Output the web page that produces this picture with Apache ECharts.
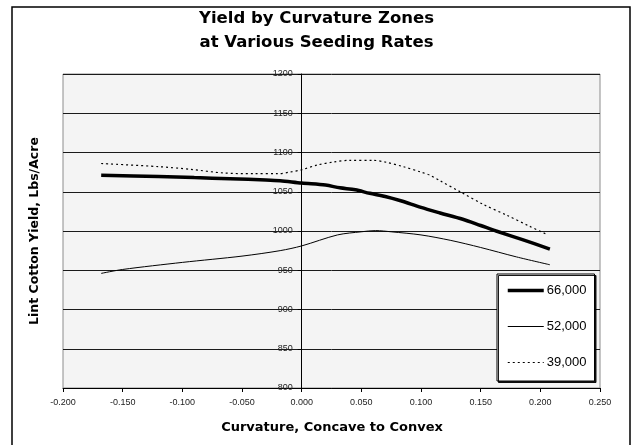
<!DOCTYPE html>
<html>
<head>
<meta charset="utf-8">
<script src="https://cdn.jsdelivr.net/npm/echarts@6/dist/echarts.min.js"></script>
<style>
html,body{margin:0;padding:0;background:#fff;}
#chart{width:633px;height:445px;}
</style>
</head>
<body>
<div id="chart"></div>
<script>
// ---- Data ----
const seriesNames = ['66,000', '52,000', '39,000'];

const x66 = [-0.168, -0.12, -0.09, -0.06, -0.03, -0.018, 0.000, 0.020, 0.032, 0.045, 0.057, 0.070, 0.083, 0.100, 0.116, 0.135, 0.150, 0.163, 0.185, 0.208];
const y66 = [1071, 1069.5, 1068, 1066.5, 1065, 1064, 1061, 1058.5, 1055, 1052.5, 1048, 1044, 1038.5, 1030, 1023, 1015, 1007, 1000, 989, 977];

const x52 = [-0.168, -0.150, -0.100, -0.050, -0.018, 0.000, 0.030, 0.050, 0.062, 0.075, 0.100, 0.125, 0.150, 0.180, 0.208];
const y52 = [946, 951, 960, 968, 975, 981, 995, 999, 1000.5, 999, 995, 988, 979, 967, 957];

const x39 = [-0.168, -0.120, -0.093, -0.066, -0.040, -0.020, -0.010, 0.000, 0.013, 0.027, 0.040, 0.060, 0.071, 0.085, 0.100, 0.1075, 0.116, 0.134, 0.152, 0.172, 0.191, 0.205];
const y39 = [1086, 1082, 1078.5, 1074, 1073, 1073, 1075, 1078, 1084, 1088, 1090, 1090, 1087.5, 1082, 1075, 1071, 1064, 1049, 1034, 1020, 1006, 996];

const xMin = -0.2, xMax = 0.25, xStep = 0.05;
const yMin = 800, yMax = 1200, yStep = 50;

const titleText = 'Yield by Curvature Zones\nat Various Seeding Rates';
const xAxisName = 'Curvature, Concave to Convex';
const yAxisName = 'Lint Cotton Yield, Lbs/Acre';

function pairs(xs, ys) { return xs.map((x, i) => [x, ys[i]]); }

const W = 633, H = 445;
const gridLeft = 63, gridRight = 33, gridTop = 74, gridBottom = 57;
const plotW = W - gridLeft - gridRight;
// move the value axis onto x = 0 of the x scale
const yAxisOffset = -plotW * (0 - xMin) / (xMax - xMin);

const chart = echarts.init(document.getElementById('chart'), null, { renderer: 'canvas' });

const option = {
  backgroundColor: '#ffffff',
  animation: false,
  title: {
    text: titleText,
    left: 'center',
    top: 7,
    padding: 0,
    textStyle: {
      fontFamily: 'DejaVu Sans',
      fontWeight: 'bold',
      fontSize: 16.5,
      lineHeight: 24,
      color: '#000'
    }
  },
  graphic: [
    {
      type: 'rect',
      silent: true,
      shape: { x: 12, y: 7, width: 618, height: 460 },
      style: { fill: 'none', stroke: '#000', lineWidth: 1.5 },
      z: 100
    },
    {
      type: 'text',
      silent: true,
      x: 35, y: 231,
      rotation: Math.PI / 2,
      style: {
        text: yAxisName,
        fontFamily: 'DejaVu Sans',
        fontWeight: 'bold',
        fontSize: 12.5,
        fill: '#000',
        align: 'center',
        verticalAlign: 'middle'
      }
    },
    {
      type: 'text',
      silent: true,
      x: 332, y: 428,
      style: {
        text: xAxisName,
        fontFamily: 'DejaVu Sans',
        fontWeight: 'bold',
        fontSize: 13,
        fill: '#000',
        align: 'center',
        verticalAlign: 'middle'
      }
    }
  ],
  grid: {
    left: gridLeft, right: gridRight, top: gridTop, bottom: gridBottom,
    show: true,
    backgroundColor: '#f4f4f4',
    borderColor: '#8c8c8c',
    borderWidth: 1
  },
  legend: {
    data: seriesNames,
    orient: 'vertical',
    left: 497,
    top: 274,
    padding: [10, 8, 12, 9],
    itemGap: 23,
    itemWidth: 36,
    itemHeight: 14,
    itemStyle: { opacity: 0 },
    lineStyle: { width: 'inherit', type: 'inherit', color: 'inherit' },
    textStyle: { fontFamily: 'Liberation Sans, Arial', fontSize: 13, color: '#000', padding: [0, 0, 0, -2] },
    backgroundColor: '#ffffff',
    borderColor: '#000',
    borderWidth: 1,
    shadowColor: 'rgba(0,0,0,0.9)',
    shadowBlur: 0,
    shadowOffsetX: 1.5,
    shadowOffsetY: 1.5
  },
  xAxis: {
    type: 'value',
    min: xMin, max: xMax, interval: xStep,
    axisLine: { onZero: false, lineStyle: { color: '#000', width: 1 } },
    axisTick: { show: true, inside: false, length: 4, lineStyle: { color: '#000' } },
    axisLabel: {
      margin: 10,
      fontFamily: 'Liberation Sans, Arial',
      fontSize: 9,
      color: '#222',
      formatter: v => v.toFixed(3)
    },
    splitLine: { show: false }
  },
  yAxis: {
    type: 'value',
    min: yMin, max: yMax, interval: yStep,
    offset: yAxisOffset,
    axisLine: { show: true, onZero: false, lineStyle: { color: '#000', width: 1 } },
    axisTick: { show: true, inside: false, length: 4, lineStyle: { color: '#000' } },
    axisLabel: {
      margin: 9,
      fontFamily: 'Liberation Sans, Arial',
      fontSize: 9,
      color: '#222',
      formatter: v => String(v)
    },
    splitLine: { show: true, lineStyle: { color: '#1a1a1a', width: 1 } }
  },
  series: [
    {
      name: seriesNames[0], type: 'line', smooth: 0.3, symbol: 'none',
      data: pairs(x66, y66),
      lineStyle: { color: '#000', width: 3.5 },
      itemStyle: { color: '#000' },
      z: 5
    },
    {
      name: seriesNames[1], type: 'line', smooth: 0.3, symbol: 'none',
      data: pairs(x52, y52),
      lineStyle: { color: '#000', width: 1 },
      itemStyle: { color: '#000' },
      z: 4
    },
    {
      name: seriesNames[2], type: 'line', smooth: 0.3, symbol: 'none',
      data: pairs(x39, y39),
      lineStyle: { color: '#000', width: 1.2, type: [2, 3] },
      itemStyle: { color: '#000' },
      z: 3
    }
  ]
};

chart.setOption(option);
</script>
</body>
</html>
